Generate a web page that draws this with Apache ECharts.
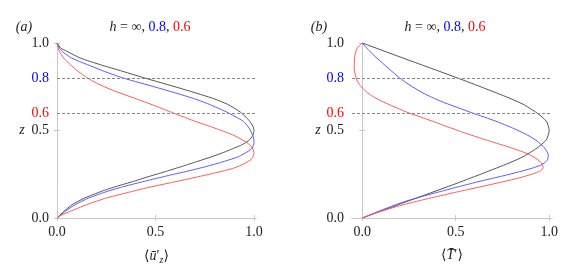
<!DOCTYPE html>
<html>
<head>
<meta charset="utf-8">
<script src="https://cdn.jsdelivr.net/npm/echarts@6/dist/echarts.min.js"></script>
<style>html,body{margin:0;padding:0;background:#fff;}#c{width:571px;height:271px;}</style>
</head>
<body>
<div id="c"></div>
<script>
// ---------- data ----------
// panel (a): <u'_z> versus z
var zA_inf = [1.0, 0.97, 0.953, 0.914, 0.876, 0.838, 0.8, 0.743, 0.686, 0.65, 0.606, 0.575, 0.553, 0.525, 0.5, 0.475, 0.457, 0.44, 0.419, 0.4, 0.381, 0.35, 0.324, 0.295, 0.267, 0.24, 0.21, 0.18, 0.152, 0.114, 0.076, 0.038, 0.0];
var uA_inf = [0.0, 0.02, 0.05, 0.118, 0.22, 0.334, 0.445, 0.62, 0.785, 0.865, 0.93, 0.96, 0.978, 0.994, 1.0, 0.995, 0.985, 0.97, 0.94, 0.90, 0.86, 0.785, 0.715, 0.635, 0.555, 0.475, 0.39, 0.30, 0.225, 0.14, 0.077, 0.035, 0.0];
var zA_08 = [1.0, 0.97, 0.953, 0.914, 0.876, 0.838, 0.8, 0.743, 0.686, 0.65, 0.606, 0.553, 0.514, 0.476, 0.457, 0.43, 0.4, 0.381, 0.35, 0.324, 0.295, 0.267, 0.24, 0.21, 0.18, 0.152, 0.114, 0.076, 0.038, 0.0];
var uA_08 = [0.0, 0.012, 0.025, 0.074, 0.155, 0.24, 0.335, 0.515, 0.685, 0.772, 0.86, 0.945, 0.975, 0.992, 0.998, 1.0, 0.99, 0.97, 0.92, 0.85, 0.76, 0.66, 0.555, 0.445, 0.34, 0.255, 0.16, 0.092, 0.042, 0.0];
var zA_06 = [1.0, 0.97, 0.953, 0.914, 0.876, 0.838, 0.8, 0.771, 0.743, 0.714, 0.686, 0.64, 0.6, 0.553, 0.514, 0.476, 0.438, 0.41, 0.375, 0.34, 0.31, 0.286, 0.257, 0.229, 0.2, 0.171, 0.14, 0.114, 0.076, 0.038, 0.015, 0.0];
var uA_06 = [0.0, 0.006, 0.012, 0.034, 0.068, 0.107, 0.155, 0.2, 0.255, 0.32, 0.39, 0.50, 0.59, 0.70, 0.80, 0.89, 0.955, 0.985, 1.0, 0.99, 0.95, 0.9, 0.8, 0.69, 0.57, 0.45, 0.34, 0.25, 0.15, 0.067, 0.02, 0.0];
// panel (b): <T'> versus z
var zB_inf = [1.0, 0.914, 0.8, 0.743, 0.686, 0.65, 0.6, 0.553, 0.5, 0.447, 0.4, 0.35, 0.314, 0.257, 0.2, 0.086, 0.0];
var tB_inf = [0.0, 0.218, 0.51, 0.65, 0.785, 0.86, 0.935, 0.985, 1.0, 0.985, 0.935, 0.86, 0.785, 0.65, 0.51, 0.218, 0.0];
var zB_08 = [1.0, 0.957, 0.914, 0.857, 0.8, 0.762, 0.714, 0.667, 0.6, 0.553, 0.514, 0.476, 0.44, 0.4, 0.36, 0.33, 0.305, 0.285, 0.267, 0.24, 0.21, 0.18, 0.152, 0.12, 0.095, 0.048, 0.0];
var tB_08 = [0.0, 0.036, 0.078, 0.138, 0.2, 0.25, 0.325, 0.42, 0.59, 0.715, 0.805, 0.88, 0.935, 0.975, 0.995, 0.99, 0.96, 0.91, 0.85, 0.75, 0.63, 0.52, 0.42, 0.31, 0.23, 0.11, 0.0];
var zB_06 = [1.0, 0.985, 0.971, 0.943, 0.914, 0.857, 0.8, 0.771, 0.743, 0.714, 0.686, 0.657, 0.629, 0.6, 0.576, 0.553, 0.514, 0.495, 0.457, 0.43, 0.4, 0.362, 0.324, 0.29, 0.27, 0.257, 0.235, 0.21, 0.18, 0.152, 0.12, 0.095, 0.07, 0.048, 0.024, 0.0];
var tB_06 = [0.0, -0.015, -0.027, -0.037, -0.041, -0.043, -0.033, -0.02, 0.0, 0.03, 0.07, 0.125, 0.185, 0.25, 0.315, 0.375, 0.475, 0.525, 0.63, 0.71, 0.80, 0.895, 0.95, 0.968, 0.955, 0.925, 0.86, 0.765, 0.64, 0.52, 0.39, 0.29, 0.2, 0.13, 0.06, 0.0];
var xTicks = [0, 0.5, 1.0];
var yTicks = [0, 0.5, 1.0];
var yLabels = [0, 0.5, 0.6, 0.8, 1.0];
var dashLevels = [0.8, 0.6];

function pairs(xs, zs) { return zs.map(function (z, i) { return [xs[i], z]; }); }

var FONT = "'Liberation Serif', 'DejaVu Serif', serif";
var FS = 14;
var C_BLACK = '#555555', C_BLUE = '#5a5aff', C_RED = '#ff5a5a';
var AX = '#c8c8c8';

function yLabelFmt(v) {
  var s = v.toFixed(1);
  if (Math.abs(v - 0.8) < 1e-6) return '{b|' + s + '}';
  if (Math.abs(v - 0.6) < 1e-6) return '{r|' + s + '}';
  return s;
}
var labelRich = { b: { color: '#0000ff', fontFamily: FONT, fontSize: FS }, r: { color: '#ff0000', fontFamily: FONT, fontSize: FS } };

function xAxes(gi, min, max, nameRich, name) {
  return [{
    type: 'value', gridIndex: gi, min: min, max: max, position: 'bottom',
    axisLine: { show: true, lineStyle: { color: AX, width: 1 } },
    axisTick: { show: true, inside: true, length: 3, customValues: xTicks, lineStyle: { color: AX } },
    axisLabel: { customValues: xTicks, formatter: function (v) { return v.toFixed(1); }, color: '#222', fontFamily: FONT, fontSize: FS, margin: 7 },
    splitLine: { show: false },
    name: name, nameLocation: 'middle', nameGap: 30,
    nameTextStyle: { color: '#222', fontFamily: FONT, fontSize: FS, rich: nameRich }
  }, {
    type: 'value', gridIndex: gi, min: min, max: max, position: 'top',
    axisLine: { show: true, lineStyle: { color: AX, width: 1 } },
    axisTick: { show: true, inside: true, length: 3, customValues: xTicks, lineStyle: { color: AX } },
    axisLabel: { show: false }, splitLine: { show: false }
  }];
}
function yAxes(gi) {
  return [{
    type: 'value', gridIndex: gi, min: 0, max: 1, position: 'left',
    axisLine: { show: true, lineStyle: { color: AX, width: 1 } },
    axisTick: { show: true, inside: true, length: 3, customValues: yTicks, lineStyle: { color: AX } },
    axisLabel: { customValues: yLabels, formatter: yLabelFmt, rich: labelRich, color: '#222', fontFamily: FONT, fontSize: FS, margin: 8 },
    splitLine: { show: false }
  }, {
    type: 'value', gridIndex: gi, min: 0, max: 1, position: 'right',
    axisLine: { show: true, lineStyle: { color: AX, width: 1 } },
    axisTick: { show: true, inside: true, length: 3, customValues: yTicks, lineStyle: { color: AX } },
    axisLabel: { show: false }, splitLine: { show: false }
  }];
}

var nameRichA = {
  m: { fontFamily: FONT, fontSize: FS, fontStyle: 'italic', color: '#222' },
  s: { fontFamily: FONT, fontSize: 10, fontStyle: 'italic', color: '#222', padding: [7, 0, 0, 0] }
};
var nameRichB = {
  m: { fontFamily: FONT, fontSize: FS, fontStyle: 'italic', color: '#222' }
};

function line(xi, yi, data, color, withMarks) {
  var s = {
    type: 'line', xAxisIndex: xi, yAxisIndex: yi, data: data, showSymbol: false, symbol: 'none',
    smooth: 0.2, lineStyle: { color: color, width: 1 }, z: 3, silent: true, animation: false
  };
  if (withMarks) {
    s.markLine = {
      silent: true, symbol: ['none', 'none'], label: { show: false },
      lineStyle: { color: '#888', type: [3, 2], width: 1 },
      data: dashLevels.map(function (v) { return { yAxis: v }; })
    };
  }
  return s;
}

var titleRich = {
  it: { fontFamily: FONT, fontSize: FS, fontStyle: 'italic', fill: '#222' },
  n: { fontFamily: FONT, fontSize: FS, fill: '#222' },
  b: { fontFamily: FONT, fontSize: FS, fill: '#0000ff' },
  r: { fontFamily: FONT, fontSize: FS, fill: '#ff0000' }
};
function titleText(cx) {
  return { type: 'text', x: cx, y: 27, style: { text: '{it|h}{n| = ∞, }{b|0.8}{n|, }{r|0.6}', rich: titleRich, align: 'center', verticalAlign: 'middle', fontFamily: FONT, fontSize: FS } };
}
function plain(t, cx, cy, italic) {
  return { type: 'text', x: cx, y: cy, style: { text: t, fill: '#222', fontFamily: FONT, fontSize: FS, fontStyle: italic ? 'italic' : 'normal', align: 'center', verticalAlign: 'middle' } };
}

var chart = echarts.init(document.getElementById('c'), null, { renderer: 'canvas' });
chart.setOption({
  animation: false,
  backgroundColor: '#fff',
  grid: [
    { left: 57, top: 43, width: 199, height: 175 },
    { left: 352, top: 43, width: 200, height: 175 }
  ],
  xAxis: xAxes(0, 0, 1.01, nameRichA, '⟨{m|ū}′{s|z}⟩').concat(xAxes(1, -0.055, 1.015, nameRichB, '⟨{m|T̄}′⟩')),
  yAxis: yAxes(0).concat(yAxes(1)),
  series: [
    line(0, 0, pairs(uA_inf, zA_inf), C_BLACK, true),
    line(0, 0, pairs(uA_08, zA_08), C_BLUE, false),
    line(0, 0, pairs(uA_06, zA_06), C_RED, false),
    line(2, 2, pairs(tB_inf, zB_inf), C_BLACK, true),
    line(2, 2, pairs(tB_08, zB_08), C_BLUE, false),
    line(2, 2, pairs(tB_06, zB_06), C_RED, false)
  ],
  graphic: [
    titleText(150), titleText(445),
    plain('(a)', 24, 27, true), plain('(b)', 319, 27, true),
    plain('z', 22, 130, true), plain('z', 318, 130, true)
  ]
});
</script>
</body>
</html>
